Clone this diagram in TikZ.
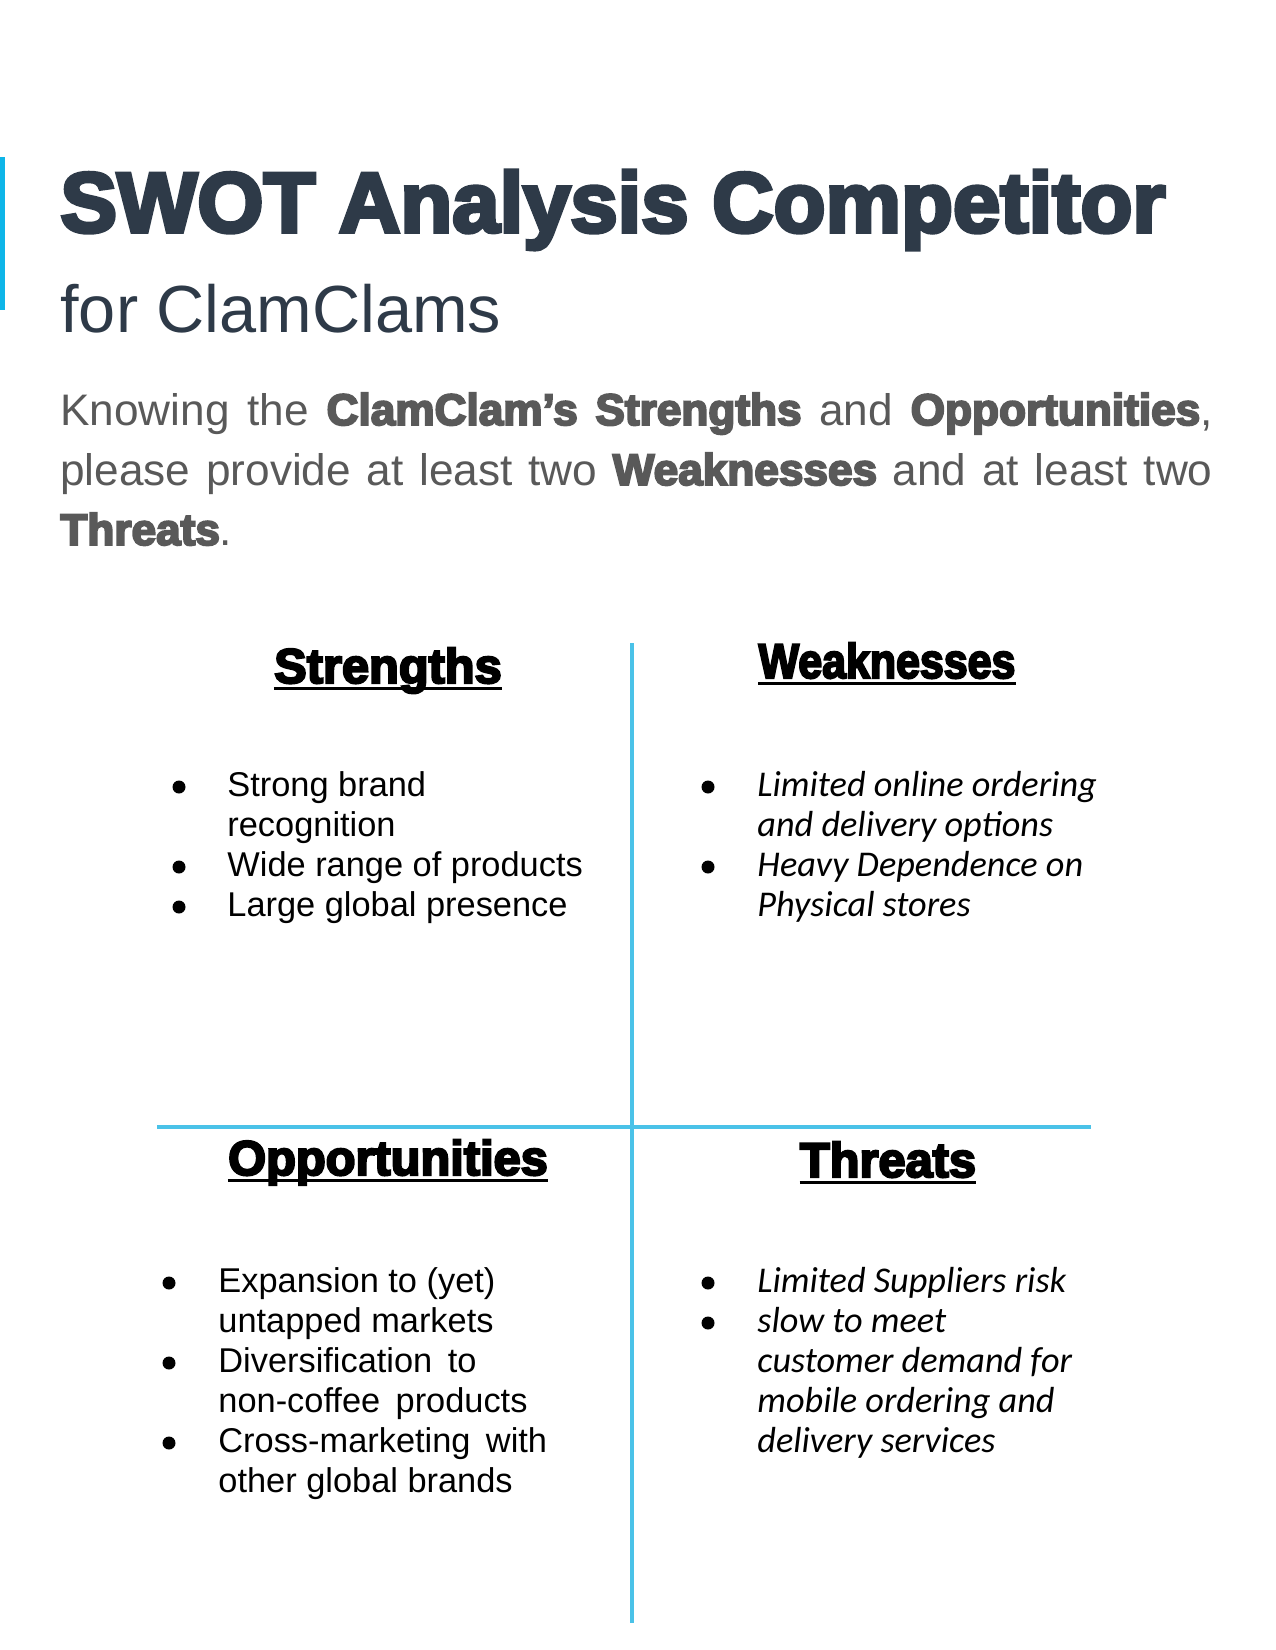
\documentclass[tikz,border=0pt]{standalone}
\usepackage{fontspec}
\usepackage{graphicx}
\setmainfont{Liberation Sans}
\newfontfamily\heavyfont[FakeBold=4.5]{Liberation Sans Bold}
\newfontfamily\itemitfont{Carlito}
\definecolor{titlecol}{RGB}{46,58,72}
\definecolor{paracol}{RGB}{89,89,89}
\definecolor{barblue}{RGB}{14,181,232}
\definecolor{gridblue}{RGB}{74,194,232}
\tikzset{
    heading/.style = {anchor=base, inner sep=0pt, font=\heavyfont\fontsize{23.4}{28}\selectfont},
    underl/.style = {line width=1.5pt},
    itemtext/.style = {anchor=base west, inner sep=0pt, font=\fontsize{16.5}{19.2}\selectfont},
    itemital/.style = {anchor=base west, inner sep=0pt, font=\itemitfont\itshape\fontsize{17.4}{19.2}\selectfont},
    gridline/.style = {gridblue, line width=1.9pt}
}
\begin{document}
\begin{tikzpicture}[x=0.48pt, y=-0.48pt]
        \useasboundingbox (0,0) rectangle (1275,1650);

        % title block
        \fill[barblue] (0,157) rectangle (5,310);
        \node[anchor=base west, inner sep=0pt, text=titlecol, font=\heavyfont\fontsize{40.8}{48}\selectfont] (title) at (60,232) {SWOT Analysis Competitor};
        \node[anchor=base west, inner sep=0pt, text=titlecol, font=\fontsize{32}{38}\selectfont] (subtitle) at (60,333) {for ClamClams};
        \node[anchor=base west, inner sep=0pt, text=paracol, text width=553pt, align=justify, font=\fontsize{21.2}{28.8}\selectfont] (intro) at (60,425)
            {Knowing the {\heavyfont ClamClam’s Strengths} and {\heavyfont Opportunities},\linebreak please provide at least two {\heavyfont Weaknesses} and at least two\linebreak {\heavyfont Threats}.};

        % quadrant lines
        \coordinate (vtop) at (632,643);
        \coordinate (vbot) at (632,1623);
        \coordinate (hleft) at (157,1127);
        \coordinate (hright) at (1091,1127);
        \draw[gridline] (vtop) -- (vbot);
        \draw[gridline] (hleft) -- (hright);

        % headings
        \node[heading] (str) at (388,683) {Strengths};
        \node[heading] (wea) at (887,678) {\scalebox{0.88}[1]{Weaknesses}};
        \node[heading] (opp) at (388,1175) {Opportunities};
        \node[heading] (thr) at (888,1177) {Threats};
        \foreach \h in {str,wea,opp,thr} {
            \draw[underl] ([yshift=-2.6pt]\h.base west) -- ([yshift=-2.6pt]\h.base east);
        }

        % strengths
        \foreach[count = \c from 0] \txt in {{Strong brand},{recognition},{Wide range of products},{Large global presence}} {
            \node[itemtext] (s\c) at (227,796+40*\c) {\txt};
        }
        \foreach \c in {0,2,3} {
            \fill (179,787+40*\c) circle[radius = 6.5];
        }

        % weaknesses
        \foreach[count = \c from 0] \txt in {{Limited online ordering},{and delivery options},{Heavy Dependence on},{Physical stores}} {
            \node[itemital] (w\c) at (757,796+40*\c) {\txt};
        }
        \foreach \c in {0,2} {
            \fill (708,787+40*\c) circle[radius = 6.5];
        }

        % opportunities
        \foreach[count = \c from 0] \txt in {{Expansion to (yet)},{untapped markets},{Diversification\hskip0.45em to},{non-coffee\hskip0.45em products},{Cross-marketing\hskip0.45em with},{other global brands}} {
            \node[itemtext] (o\c) at (218,1292+40*\c) {\txt};
        }
        \foreach \c in {0,2,4} {
            \fill (169,1283+40*\c) circle[radius = 6.5];
        }

        % threats
        \foreach[count = \c from 0] \txt in {{Limited Suppliers risk},{slow to meet},{customer demand for},{mobile ordering and},{delivery services}} {
            \node[itemital] (t\c) at (757,1292+40*\c) {\txt};
        }
        \foreach \c in {0,1} {
            \fill (708,1283+40*\c) circle[radius = 6.5];
        }
    \end{tikzpicture}
\end{document}
